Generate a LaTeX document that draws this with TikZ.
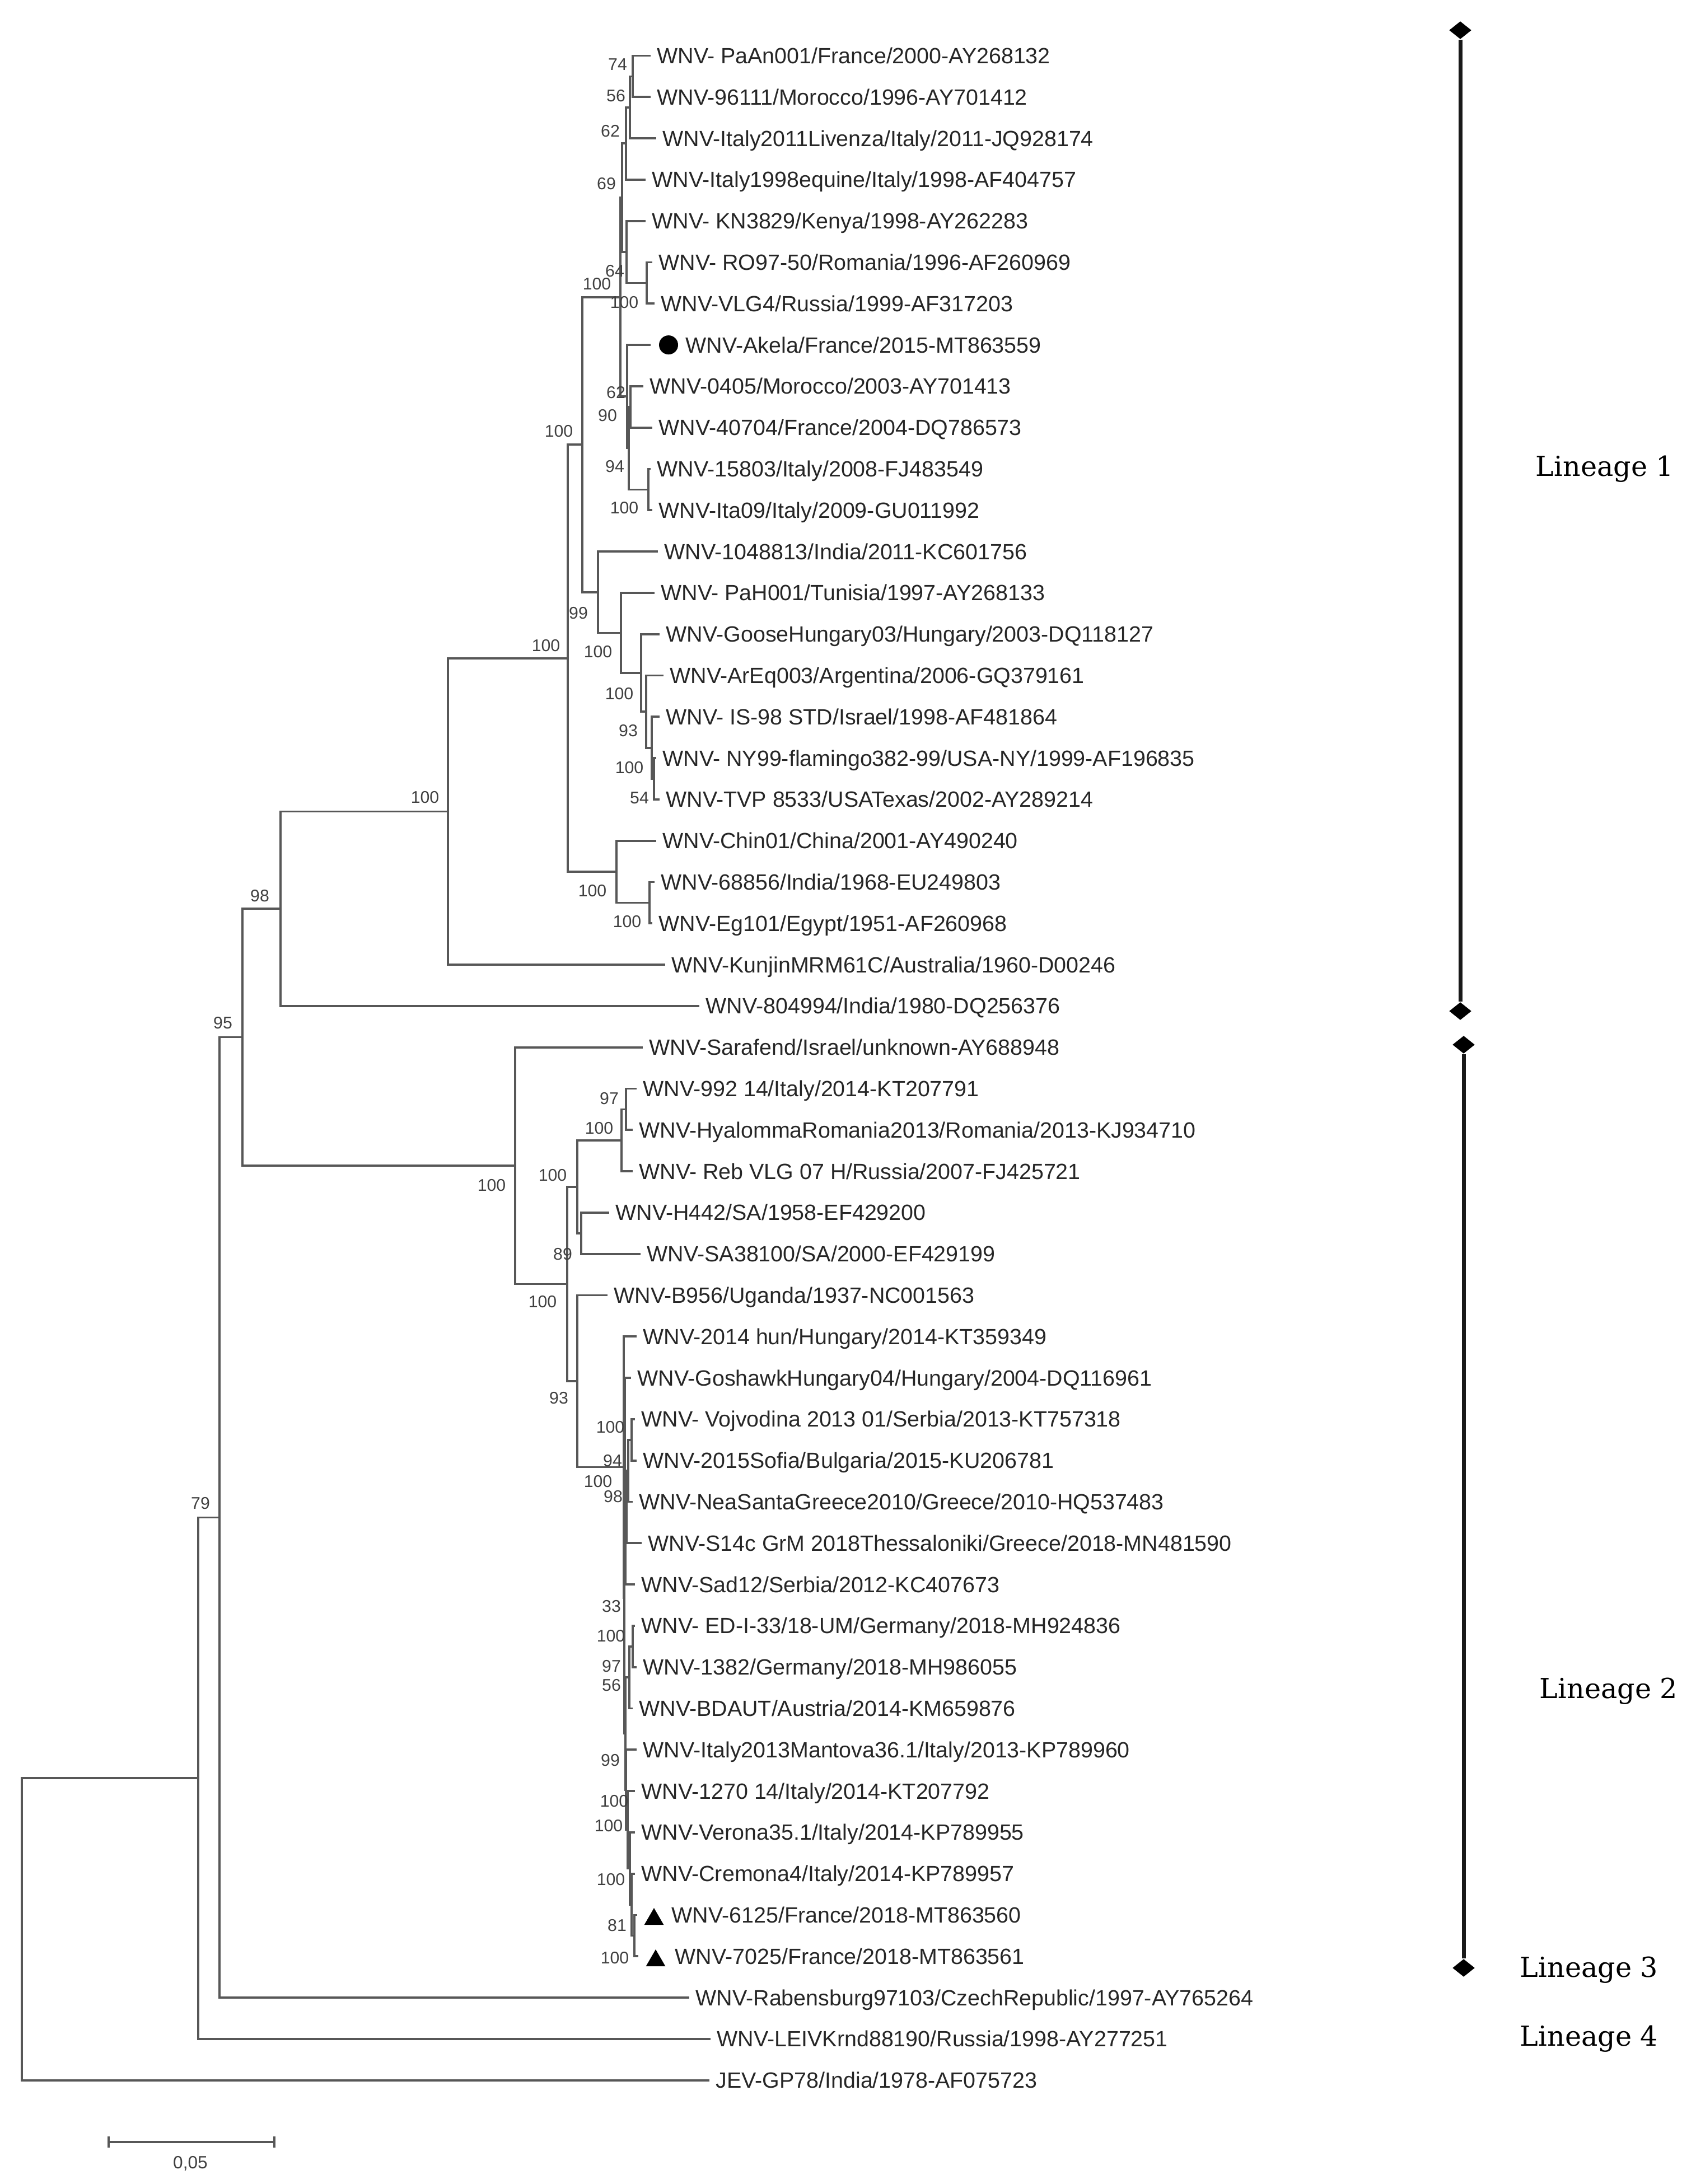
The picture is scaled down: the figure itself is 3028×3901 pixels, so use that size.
\documentclass[tikz,border=0pt]{standalone}
\usepackage{fontspec}
\setmainfont{Liberation Sans}
\newfontfamily\linfont{DejaVu Serif}
\usetikzlibrary{shapes.geometric}
\newcommand\lf[3]{%
  \coordinate (e#1) at ({#2-13},{99.5+(#1-1)*73.8});
  \node[leaflab] (t#1) at ({#2},{99.5+(#1-1)*73.8+14}) {#3};}
\newcommand\bsv[3]{\node[bs] at (#1,#2) {#3};}
\begin{document}
\begin{tikzpicture}[x=0.01cm,y=-0.01cm,
  br/.style={draw=black!66, line width=1.05pt, line cap=rect},
  leaflab/.style={anchor=base west, inner sep=0pt, font=\fontsize{11.2}{13}\selectfont, text=black!85},
  bs/.style={inner sep=0pt, font=\fontsize{8.6}{10}\selectfont, text=black!75},
  linlab/.style={inner sep=0pt, font=\linfont\fontsize{14}{16}\selectfont, text=black},
  diam/.style={diamond, fill=black, inner sep=0pt, minimum width=0.4cm, minimum height=0.32cm},
  lbar/.style={draw=black!90, line width=2pt},
  dotm/.style={circle, fill=black, inner sep=0pt, minimum size=0.34cm},
  trim/.style={regular polygon, regular polygon sides=3, fill=black, inner sep=0pt, minimum size=0.4cm}]
\useasboundingbox (0,0) rectangle (3028,3901);

% ---- leaves ----
\lf{1}{1173}{WNV- PaAn001/France/2000-AY268132}
\lf{2}{1173}{WNV-96111/Morocco/1996-AY701412}
\lf{3}{1183}{WNV-Italy2011Livenza/Italy/2011-JQ928174}
\lf{4}{1164}{WNV-Italy1998equine/Italy/1998-AF404757}
\lf{5}{1164}{WNV- KN3829/Kenya/1998-AY262283}
\lf{6}{1176}{WNV- RO97-50/Romania/1996-AF260969}
\lf{7}{1180}{WNV-VLG4/Russia/1999-AF317203}
\coordinate (e8) at (1160,616.1);
\node[dotm] (m8) at (1194,616.1) {};
\node[leaflab] (t8) at (1224,630.1) {WNV-Akela/France/2015-MT863559};
\lf{9}{1160}{WNV-0405/Morocco/2003-AY701413}
\lf{10}{1176}{WNV-40704/France/2004-DQ786573}
\lf{11}{1173}{WNV-15803/Italy/2008-FJ483549}
\lf{12}{1176}{WNV-Ita09/Italy/2009-GU011992}
\lf{13}{1186}{WNV-1048813/India/2011-KC601756}
\lf{14}{1180}{WNV- PaH001/Tunisia/1997-AY268133}
\lf{15}{1189}{WNV-GooseHungary03/Hungary/2003-DQ118127}
\lf{16}{1196}{WNV-ArEq003/Argentina/2006-GQ379161}
\lf{17}{1189}{WNV- IS-98 STD/Israel/1998-AF481864}
\lf{18}{1183}{WNV- NY99-flamingo382-99/USA-NY/1999-AF196835}
\lf{19}{1189}{WNV-TVP 8533/USATexas/2002-AY289214}
\lf{20}{1183}{WNV-Chin01/China/2001-AY490240}
\lf{21}{1180}{WNV-68856/India/1968-EU249803}
\lf{22}{1176}{WNV-Eg101/Egypt/1951-AF260968}
\lf{23}{1199}{WNV-KunjinMRM61C/Australia/1960-D00246}
\lf{24}{1260}{WNV-804994/India/1980-DQ256376}
\lf{25}{1159}{WNV-Sarafend/Israel/unknown-AY688948}
\lf{26}{1148}{WNV-992 14/Italy/2014-KT207791}
\lf{27}{1141}{WNV-HyalommaRomania2013/Romania/2013-KJ934710}
\lf{28}{1141}{WNV- Reb VLG 07 H/Russia/2007-FJ425721}
\lf{29}{1099}{WNV-H442/SA/1958-EF429200}
\lf{30}{1155}{WNV-SA38100/SA/2000-EF429199}
\lf{31}{1096}{WNV-B956/Uganda/1937-NC001563}
\lf{32}{1148}{WNV-2014 hun/Hungary/2014-KT359349}
\lf{33}{1138}{WNV-GoshawkHungary04/Hungary/2004-DQ116961}
\lf{34}{1145}{WNV- Vojvodina 2013 01/Serbia/2013-KT757318}
\lf{35}{1148}{WNV-2015Sofia/Bulgaria/2015-KU206781}
\lf{36}{1141}{WNV-NeaSantaGreece2010/Greece/2010-HQ537483}
\lf{37}{1157}{WNV-S14c GrM 2018Thessaloniki/Greece/2018-MN481590}
\lf{38}{1145}{WNV-Sad12/Serbia/2012-KC407673}
\lf{39}{1145}{WNV- ED-I-33/18-UM/Germany/2018-MH924836}
\lf{40}{1148}{WNV-1382/Germany/2018-MH986055}
\lf{41}{1141}{WNV-BDAUT/Austria/2014-KM659876}
\lf{42}{1148}{WNV-Italy2013Mantova36.1/Italy/2013-KP789960}
\lf{43}{1145}{WNV-1270 14/Italy/2014-KT207792}
\lf{44}{1145}{WNV-Verona35.1/Italy/2014-KP789955}
\lf{45}{1145}{WNV-Cremona4/Italy/2014-KP789957}
\coordinate (e46) at (1136,3420.5);
\node[trim] (m46) at (1168,3428) {};
\node[leaflab] (t46) at (1199,3434.5) {WNV-6125/France/2018-MT863560};
\coordinate (e47) at (1138,3494.3);
\node[trim] (m47) at (1171,3502) {};
\node[leaflab] (t47) at (1205,3508.3) {WNV-7025/France/2018-MT863561};
\lf{48}{1242}{WNV-Rabensburg97103/CzechRepublic/1997-AY765264}
\lf{49}{1280}{WNV-LEIVKrnd88190/Russia/1998-AY277251}
\lf{50}{1278}{JEV-GP78/India/1978-AF075723}

% ---- internal nodes ----
\coordinate (a12) at (1130,136.4);
\coordinate (a123) at (1125,191.75);
\coordinate (a1234) at (1118,256.3);
\coordinate (b67) at (1155,505.4);
\coordinate (b567) at (1119,450.05);
\coordinate (j17) at (1111,353.2);
\coordinate (c910) at (1126,726.8);
\coordinate (c1112) at (1158,874.4);
\coordinate (c912) at (1123,800.6);
\coordinate (c812) at (1120,708.35);
\coordinate (j112) at (1108,530.8);
\coordinate (d1819) at (1168,1391);
\coordinate (d17) at (1164,1335.65);
\coordinate (d16) at (1154,1271.1);
\coordinate (d15) at (1145,1201.9);
\coordinate (d14) at (1109,1130.4);
\coordinate (d13) at (1068,1057.75);
\coordinate (Lb) at (1040,794.3);
\coordinate (g2122) at (1160,1612.4);
\coordinate (g20) at (1101,1557.05);
\coordinate (La) at (1014,1175.7);
\coordinate (n800) at (800,1449.4);
\coordinate (n500) at (501,1623.15);
\coordinate (f2627) at (1118,1981.4);
\coordinate (f28) at (1110,2036.75);
\coordinate (f2930) at (1038,2202.8);
\coordinate (N2b) at (1031,2119.8);
\coordinate (qR3) at (1128,2571.8);
\coordinate (qR2) at (1122,2627.15);
\coordinate (qR1) at (1119,2691.7);
\coordinate (qR) at (1117,2760.9);
\coordinate (qU) at (1116,2611.0);
\coordinate (qV1a) at (1130,2940.8);
\coordinate (qV1) at (1124,2996.15);
\coordinate (qW4) at (1133,3457.4);
\coordinate (qW3) at (1128,3402.05);
\coordinate (qW2) at (1125,3337.5);
\coordinate (qW1) at (1121,3268.3);
\coordinate (qV2) at (1118,3196.8);
\coordinate (qV) at (1117,3096.5);
\coordinate (qX) at (1115,2853.75);
\coordinate (N2a) at (1114,2620.5);
\coordinate (N2c) at (1031,2467.0);
\coordinate (n1013) at (1013,2293.4);
\coordinate (L2r) at (920,2082.05);
\coordinate (n433) at (433,1852.6);
\coordinate (n392) at (392,2710.35);
\coordinate (n354) at (354,3176.1);
\coordinate (root) at (39,3445.9);

% ---- branches ----
\foreach \p/\c in {a12/e1,a12/e2,a123/a12,a123/e3,a1234/a123,a1234/e4,
  b67/e6,b67/e7,b567/e5,b567/b67,j17/a1234,j17/b567,
  c910/e9,c910/e10,c1112/e11,c1112/e12,c912/c910,c912/c1112,c812/e8,c812/c912,
  j112/j17,j112/c812,
  d1819/e18,d1819/e19,d17/e17,d17/d1819,d16/e16,d16/d17,d15/e15,d15/d16,
  d14/e14,d14/d15,d13/e13,d13/d14,Lb/j112,Lb/d13,
  g2122/e21,g2122/e22,g20/e20,g20/g2122,La/Lb,La/g20,n800/La,n800/e23,
  n500/n800,n500/e24,
  f2627/e26,f2627/e27,f28/f2627,f28/e28,f2930/e29,f2930/e30,N2b/f28,N2b/f2930,
  qR3/e34,qR3/e35,qR2/qR3,qR2/e36,qR1/qR2,qR1/e37,qR/qR1,qR/e38,qU/e33,qU/qR,
  qV1a/e39,qV1a/e40,qV1/qV1a,qV1/e41,
  qW4/e46,qW4/e47,qW3/e45,qW3/qW4,qW2/e44,qW2/qW3,qW1/e43,qW1/qW2,qV2/e42,qV2/qW1,
  qV/qV1,qV/qV2,qX/qU,qX/qV,N2a/e32,N2a/qX,N2c/e31,N2c/N2a,
  n1013/N2b,n1013/N2c,L2r/e25,L2r/n1013,
  n433/n500,n433/L2r,n392/n433,n392/e48,n354/n392,n354/e49,root/n354,root/e50}
  \draw[br] (\p) |- (\c);

% ---- bootstrap values ----
\bsv{1103}{115}{74}
\bsv{1100}{171}{56}
\bsv{1090}{234}{62}
\bsv{1083}{328}{69}
\bsv{1098}{484}{64}
\bsv{1066}{507}{100}
\bsv{1115}{540}{100}
\bsv{1100}{701}{62}
\bsv{1085}{742}{90}
\bsv{1098}{833}{94}
\bsv{1115}{907}{100}
\bsv{998}{770}{100}
\bsv{1033}{1095}{99}
\bsv{975}{1153}{100}
\bsv{1068}{1164}{100}
\bsv{1106}{1239}{100}
\bsv{1122}{1305}{93}
\bsv{1124}{1371}{100}
\bsv{1142}{1425}{54}
\bsv{1058}{1591}{100}
\bsv{1120}{1646}{100}
\bsv{759}{1424}{100}
\bsv{464}{1600}{98}
\bsv{398}{1827}{95}
\bsv{358}{2685}{79}
\bsv{878}{2117}{100}
\bsv{1088}{1962}{97}
\bsv{1070}{2015}{100}
\bsv{987}{2099}{100}
\bsv{1005}{2240}{89}
\bsv{969}{2325}{100}
\bsv{998}{2497}{93}
\bsv{1090}{2549}{100}
\bsv{1094}{2609}{94}
\bsv{1068}{2646}{100}
\bsv{1095}{2673}{98}
\bsv{1092}{2869}{33}
\bsv{1091}{2922}{100}
\bsv{1092}{2976}{97}
\bsv{1092}{3010}{56}
\bsv{1090}{3144}{99}
\bsv{1097}{3217}{100}
\bsv{1087}{3261}{100}
\bsv{1091}{3357}{100}
\bsv{1102}{3439}{81}
\bsv{1098}{3497}{100}

% ---- lineage bars ----
\node[diam] (d1t) at (2608,54) {};
\node[diam] (d1b) at (2608,1806) {};
\node[diam] (d2t) at (2614,1866) {};
\node[diam] (d2b) at (2614,3515) {};
\draw[lbar] (d1t) -- (d1b);
\draw[lbar] (d2t) -- (d2b);
\node[linlab] (lin1) at (2866,838) {Lineage 1};
\node[linlab] (lin2) at (2873,3021) {Lineage 2};
\node[linlab] (lin3) at (2838,3519) {Lineage 3};
\node[linlab] (lin4) at (2838,3642) {Lineage 4};

% ---- scale bar ----
\coordinate (sb1) at (194,3826);
\coordinate (sb2) at (490,3826);
\draw[br] (sb1) -- (sb2);
\draw[br] ([yshift=-2.2pt]sb1) -- ([yshift=2.2pt]sb1);
\draw[br] ([yshift=-2.2pt]sb2) -- ([yshift=2.2pt]sb2);
\node[bs, font=\fontsize{9}{10}\selectfont] (sbl) at (340,3864) {0,05};
\end{tikzpicture}
\end{document}
